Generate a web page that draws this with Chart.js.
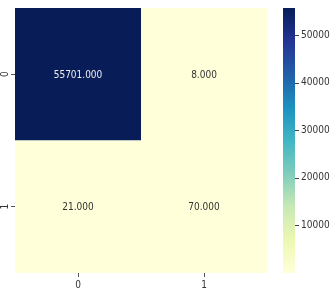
<!DOCTYPE html>
<html>
<head>
<meta charset="utf-8">
<script src="https://cdn.jsdelivr.net/npm/chart.js@4"></script>
<style>
  html, body { margin: 0; padding: 0; background: #fff; overflow: hidden; }
  canvas { display: block; }
</style>
</head>
<body>
<canvas id="chart" width="330" height="298"></canvas>
<script>
// Confusion matrix heatmap (YlGnBu) with colorbar

const xLabels = ['0', '1'];
const yLabels = ['0', '1'];
const row0 = [55701, 8];
const row1 = [21, 70];
const matrix = [row0, row1];
const cbTicks = [10000, 20000, 30000, 40000, 50000];

const FONT = "'DejaVu Sans Condensed', 'DejaVu Sans', sans-serif";
const allVals = matrix.flat();
const vmin = Math.min(...allVals);
const vmax = Math.max(...allVals);

// YlGnBu stops
const ylgnbu = ['#ffffd9', '#edf8b1', '#c7e9b4', '#7fcdbb', '#41b6c4',
                '#1d91c0', '#225ea8', '#253494', '#081d58'];

function hex2rgb(h) {
  return [parseInt(h.slice(1, 3), 16), parseInt(h.slice(3, 5), 16), parseInt(h.slice(5, 7), 16)];
}
function cmap(t) {
  t = Math.max(0, Math.min(1, t));
  const n = ylgnbu.length - 1;
  const i = Math.min(n - 1, Math.floor(t * n));
  const f = t * n - i;
  const a = hex2rgb(ylgnbu[i]), b = hex2rgb(ylgnbu[i + 1]);
  const c = a.map((v, k) => Math.round(v + (b[k] - v) * f));
  return { css: `rgb(${c[0]},${c[1]},${c[2]})`, lum: 0.299 * c[0] + 0.587 * c[1] + 0.114 * c[2] };
}

const cellPoints = [];
matrix.forEach((row, r) => row.forEach((v, c) => cellPoints.push({ x: c + 0.5, y: r + 0.5, v })));

const heatmap = {
  id: 'heatmap',
  beforeDatasetsDraw(chart) {
    const { ctx, scales: { x, y, cb }, chartArea } = chart;
    ctx.save();
    matrix.forEach((row, r) => row.forEach((v, c) => {
      const x0 = x.getPixelForValue(c), x1 = x.getPixelForValue(c + 1);
      const y0 = y.getPixelForValue(r), y1 = y.getPixelForValue(r + 1);
      ctx.fillStyle = cmap((v - vmin) / (vmax - vmin)).css;
      ctx.fillRect(x0, y0, x1 - x0, y1 - y0);
    }));

    // colorbar
    const bx = chartArea.right + 16, bw = 12;
    const top = cb.getPixelForValue(vmax), bot = cb.getPixelForValue(vmin);
    const g = ctx.createLinearGradient(0, bot, 0, top);
    ylgnbu.forEach((col, i) => g.addColorStop(i / (ylgnbu.length - 1), col));
    ctx.fillStyle = g;
    ctx.fillRect(bx, top, bw, bot - top);
    ctx.strokeStyle = '#444';
    ctx.lineWidth = 1;
    cbTicks.forEach(v => {
      const py = Math.round(cb.getPixelForValue(v)) + 0.5;
      ctx.beginPath();
      ctx.moveTo(bx + bw, py);
      ctx.lineTo(bx + bw + 4, py);
      ctx.stroke();
    });

    // y tick labels, rotated
    ctx.fillStyle = '#333';
    ctx.font = `10px ${FONT}`;
    ctx.textAlign = 'center';
    ctx.textBaseline = 'middle';
    yLabels.forEach((lab, i) => {
      const py = y.getPixelForValue(i + 0.5);
      ctx.save();
      ctx.translate(5, py);
      ctx.rotate(-Math.PI / 2);
      ctx.fillText(lab, 0, 0);
      ctx.restore();
    });
    ctx.restore();
  },
  afterDatasetsDraw(chart) {
    const { ctx, scales: { x, y } } = chart;
    ctx.save();
    ctx.font = `10px ${FONT}`;
    ctx.textAlign = 'center';
    ctx.textBaseline = 'middle';
    cellPoints.forEach(p => {
      const col = cmap((p.v - vmin) / (vmax - vmin));
      ctx.fillStyle = col.lum < 128 ? '#eeeeee' : '#333333';
      ctx.fillText(p.v.toFixed(3), x.getPixelForValue(p.x), y.getPixelForValue(p.y) + 1);
    });
    ctx.restore();
  }
};

new Chart(document.getElementById('chart'), {
  type: 'scatter',
  data: {
    datasets: [{
      data: cellPoints,
      pointRadius: 0,
      pointHoverRadius: 0
    }]
  },
  options: {
    responsive: false,
    animation: false,
    events: [],
    layout: { padding: { top: 8, left: 0, right: 0, bottom: 0 } },
    plugins: { legend: { display: false }, tooltip: { enabled: false } },
    scales: {
      x: {
        type: 'linear',
        min: 0, max: 2,
        afterBuildTicks(s) { s.ticks = xLabels.map((_, i) => ({ value: i + 0.5 })); },
        afterFit(s) { s.height = 25; s.paddingLeft = 0; s.paddingRight = 0; },
        ticks: {
          callback: (v) => xLabels[Math.round(v - 0.5)],
          color: '#333',
          font: { family: FONT, size: 10 },
          padding: 2,
          maxRotation: 0
        },
        grid: { display: true, drawOnChartArea: false, drawTicks: true, tickLength: 4, tickColor: '#555' },
        border: { display: false }
      },
      y: {
        type: 'linear',
        reverse: true,
        min: 0, max: 2,
        afterBuildTicks(s) { s.ticks = yLabels.map((_, i) => ({ value: i + 0.5 })); },
        afterFit(s) { s.width = 15; s.paddingTop = 0; s.paddingBottom = 0; },
        ticks: { display: false },
        grid: { display: true, drawOnChartArea: false, drawTicks: true, tickLength: 4, tickColor: '#555' },
        border: { display: false }
      },
      cb: {
        type: 'linear',
        position: 'right',
        min: vmin, max: vmax,
        afterBuildTicks(s) { s.ticks = cbTicks.map(v => ({ value: v })); },
        afterFit(s) { s.width = 63; s.paddingTop = 0; s.paddingBottom = 0; },
        ticks: {
          callback: (v) => String(v),
          color: '#333',
          font: { family: FONT, size: 10 },
          padding: 34
        },
        grid: { display: false, drawTicks: false },
        border: { display: false }
      }
    }
  },
  plugins: [heatmap]
});
</script>
</body>
</html>
